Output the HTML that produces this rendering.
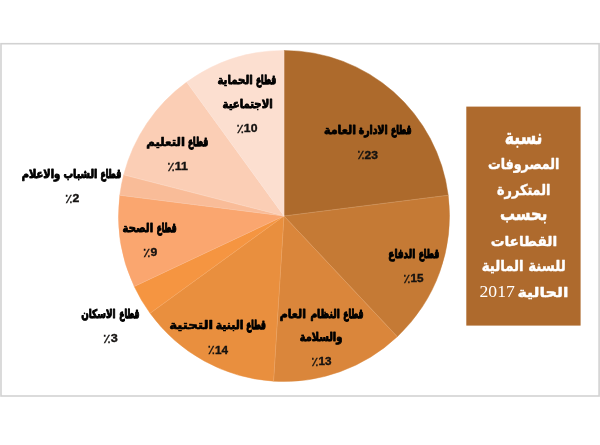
<!DOCTYPE html>
<html lang="ar">
<head>
<meta charset="utf-8">
<title>نسبة المصروفات المتكررة بحسب القطاعات للسنة المالية الحالية 2017</title>
<style>
html,body{margin:0;padding:0;background:#fff;}
body{width:600px;height:445px;overflow:hidden;position:relative;}
svg{position:absolute;left:0;top:0;display:block;}
text{font-family:"DejaVu Sans","Liberation Sans",sans-serif;text-anchor:middle;}
.lb{font-size:11px;font-weight:bold;fill:#000;stroke:#000;stroke-linejoin:round;direction:rtl;}
.pc{font-family:"Liberation Sans","DejaVu Sans",sans-serif;font-size:11px;font-weight:bold;fill:#141210;stroke:#141210;stroke-width:0.35px;direction:ltr;}
.ps{font-family:"DejaVu Sans",sans-serif;font-weight:normal;font-size:12.5px;stroke-width:0.3px;}
.bx{font-size:15px;font-weight:bold;fill:#fff;stroke:#fff;stroke-width:0.45px;stroke-linejoin:round;direction:rtl;}
.yr{font-family:"Liberation Serif",serif;font-weight:normal;font-size:17.5px;fill:#fff;direction:ltr;}
</style>
</head>
<body>
<svg width="600" height="445" viewBox="0 0 600 445">
<rect x="0" y="0" width="600" height="445" fill="#fff"/>
<rect x="1" y="43.7" width="598.1" height="352.3" fill="#fff" stroke="#d2d2d2" stroke-width="1.6"/>
<g>
<path d="M284.00 216.00L284.00 50.50A165.5 165.5 0 0 1 448.19 195.26Z" fill="#AD6A2C" stroke="#AD6A2C" stroke-width="0.5"/>
<path d="M284.00 216.00L448.19 195.26A165.5 165.5 0 0 1 397.29 336.64Z" fill="#C57A35" stroke="#C57A35" stroke-width="0.5"/>
<path d="M284.00 216.00L397.29 336.64A165.5 165.5 0 0 1 273.61 381.17Z" fill="#DA863B" stroke="#DA863B" stroke-width="0.5"/>
<path d="M284.00 216.00L273.61 381.17A165.5 165.5 0 0 1 150.11 313.28Z" fill="#E98F3E" stroke="#E98F3E" stroke-width="0.5"/>
<path d="M284.00 216.00L150.11 313.28A165.5 165.5 0 0 1 134.25 286.47Z" fill="#F59541" stroke="#F59541" stroke-width="0.5"/>
<path d="M284.00 216.00L134.25 286.47A165.5 165.5 0 0 1 119.81 195.26Z" fill="#FAA66F" stroke="#FAA66F" stroke-width="0.5"/>
<path d="M284.00 216.00L119.81 195.26A165.5 165.5 0 0 1 123.70 174.84Z" fill="#F9BC98" stroke="#F9BC98" stroke-width="0.5"/>
<path d="M284.00 216.00L123.70 174.84A165.5 165.5 0 0 1 186.72 82.11Z" fill="#FBCEB5" stroke="#FBCEB5" stroke-width="0.5"/>
<path d="M284.00 216.00L186.72 82.11A165.5 165.5 0 0 1 284.00 50.50Z" fill="#FCDFD0" stroke="#FCDFD0" stroke-width="0.5"/>
</g>
<g stroke="#fff" stroke-opacity="0.22" stroke-width="0.6" fill="none">
<line x1="284.00" y1="216.00" x2="284.00" y2="50.50"/>
<line x1="284.00" y1="216.00" x2="448.19" y2="195.26"/>
<line x1="284.00" y1="216.00" x2="397.29" y2="336.64"/>
<line x1="284.00" y1="216.00" x2="273.61" y2="381.17"/>
<line x1="284.00" y1="216.00" x2="150.11" y2="313.28"/>
<line x1="284.00" y1="216.00" x2="134.25" y2="286.47"/>
<line x1="284.00" y1="216.00" x2="119.81" y2="195.26"/>
<line x1="284.00" y1="216.00" x2="123.70" y2="174.84"/>
<line x1="284.00" y1="216.00" x2="186.72" y2="82.11"/>
</g>
<rect x="466.3" y="106.6" width="114.3" height="219" fill="#AE6A2D"/>
<g>
<text class="lb" stroke-width="1.15" transform="matrix(0.6957 0 0 1.0800 401.21 134.30)">قطاع</text>
<text class="lb" stroke-width="0.89" transform="matrix(0.8478 0 0 1.0800 373.21 134.30)">الادارة</text>
<text class="lb" stroke-width="0.70" transform="matrix(1.0146 0 0 1.0800 340.03 134.30)">العامة</text>
<text class="lb" stroke-width="1.15" transform="matrix(0.6957 0 0 1.0800 428.91 258.00)">قطاع</text>
<text class="lb" stroke-width="0.94" transform="matrix(0.8156 0 0 1.0800 401.75 258.00)">الدفاع</text>
<text class="lb" stroke-width="1.18" transform="matrix(0.6817 0 0 1.0800 353.41 318.20)">قطاع</text>
<text class="lb" stroke-width="0.91" transform="matrix(0.8348 0 0 1.0800 325.10 318.20)">النظام</text>
<text class="lb" stroke-width="0.72" transform="matrix(1.0020 0 0 1.0800 292.78 318.20)">العام</text>
<text class="lb" stroke-width="0.83" transform="matrix(0.8936 0 0 1.0800 321.00 341.00)">والسلامة</text>
<text class="lb" stroke-width="1.23" transform="matrix(0.6621 0 0 1.0800 256.10 329.00)">قطاع</text>
<text class="lb" stroke-width="0.73" transform="matrix(0.9908 0 0 1.0800 229.62 329.00)">البنية</text>
<text class="lb" stroke-width="0.55" transform="matrix(1.2259 0 0 1.0800 191.15 329.00)">التحتية</text>
<text class="lb" stroke-width="1.19" transform="matrix(0.6783 0 0 1.0800 129.37 318.20)">قطاع</text>
<text class="lb" stroke-width="0.95" transform="matrix(0.8047 0 0 1.0800 98.40 318.20)">الاسكان</text>
<text class="lb" stroke-width="1.22" transform="matrix(0.6655 0 0 1.0800 166.65 232.00)">قطاع</text>
<text class="lb" stroke-width="0.81" transform="matrix(0.9147 0 0 1.0800 137.86 232.00)">الصحة</text>
<text class="lb" stroke-width="1.14" transform="matrix(0.7026 0 0 1.0800 110.81 177.50)">قطاع</text>
<text class="lb" stroke-width="0.85" transform="matrix(0.8763 0 0 1.0800 80.35 177.50)">الشباب</text>
<text class="lb" stroke-width="0.82" transform="matrix(0.9048 0 0 1.0800 41.00 177.50)">والاعلام</text>
<text class="lb" stroke-width="1.17" transform="matrix(0.6852 0 0 1.0800 198.06 146.10)">قطاع</text>
<text class="lb" stroke-width="0.66" transform="matrix(1.0667 0 0 1.0800 165.63 146.10)">التعليم</text>
<text class="lb" stroke-width="1.17" transform="matrix(0.6852 0 0 1.0800 266.06 83.90)">قطاع</text>
<text class="lb" stroke-width="0.79" transform="matrix(0.9262 0 0 1.0800 235.07 83.90)">الحماية</text>
<text class="lb" stroke-width="0.80" transform="matrix(0.9209 0 0 1.0800 247.57 107.60)">الاجتماعية</text>
<text class="pc" transform="matrix(1.0944 0 0 1.0000 367.58 158.50)"><tspan class="ps" dy="0.9">٪</tspan><tspan dy="-0.9">23</tspan></text>
<text class="pc" transform="matrix(1.0667 0 0 1.0000 413.33 282.10)"><tspan class="ps" dy="0.9">٪</tspan><tspan dy="-0.9">15</tspan></text>
<text class="pc" transform="matrix(1.0667 0 0 1.0000 321.33 365.00)"><tspan class="ps" dy="0.9">٪</tspan><tspan dy="-0.9">13</tspan></text>
<text class="pc" transform="matrix(1.0685 0 0 1.0000 217.85 353.50)"><tspan class="ps" dy="0.9">٪</tspan><tspan dy="-0.9">14</tspan></text>
<text class="pc" transform="matrix(1.1500 0 0 1.0000 110.31 342.00)"><tspan class="ps" dy="0.9">٪</tspan><tspan dy="-0.9">3</tspan></text>
<text class="pc" transform="matrix(1.1083 0 0 1.0000 150.07 256.20)"><tspan class="ps" dy="0.9">٪</tspan><tspan dy="-0.9">9</tspan></text>
<text class="pc" transform="matrix(1.1167 0 0 1.0000 72.22 201.80)"><tspan class="ps" dy="0.9">٪</tspan><tspan dy="-0.9">2</tspan></text>
<text class="pc" transform="matrix(1.1257 0 0 1.0000 177.57 170.40)"><tspan class="ps" dy="0.9">٪</tspan><tspan dy="-0.9">11</tspan></text>
<text class="pc" transform="matrix(1.1111 0 0 1.0000 246.92 131.60)"><tspan class="ps" dy="0.9">٪</tspan><tspan dy="-0.9">10</tspan></text>
<text class="bx" transform="matrix(1.0453 0 0 1.4125 523.63 143.60)">نسبة</text>
<text class="bx" transform="matrix(0.8410 0 0 1.0000 523.71 169.10)">المصروفات</text>
<text class="bx" transform="matrix(0.8557 0 0 0.9913 523.71 194.60)">المتكررة</text>
<text class="bx" transform="matrix(0.9967 0 0 1.2160 523.72 220.10)">بحسب</text>
<text class="bx" transform="matrix(0.9155 0 0 0.9130 523.93 245.60)">القطاعات</text>
<text class="bx" transform="matrix(0.8884 0 0 1.0000 523.71 271.10)">للسنة المالية</text>
<text class="bx" transform="matrix(1.0616 0 0 0.8957 542.88 296.60)">الحالية</text>
<text class="yr" transform="matrix(1.0072 0 0 1.0000 497.17 297.40)">2017</text>
</g>
</svg>
</body>
</html>
